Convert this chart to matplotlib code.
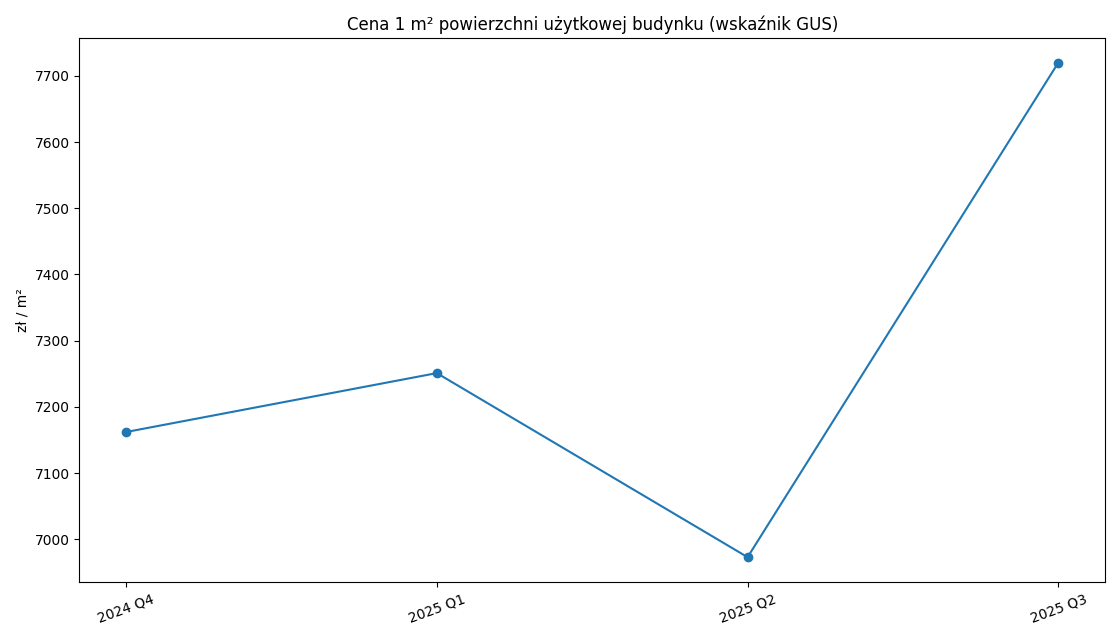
import matplotlib
matplotlib.use("Agg")
import matplotlib.pyplot as plt

quarters = ["2024 Q4", "2025 Q1", "2025 Q2", "2025 Q3"]
prices = [7162, 7251, 6973, 7720]

fig, ax = plt.subplots(figsize=(11.2, 6.4), dpi=100)
ax.plot(quarters, prices, marker="o")
ax.set_title("Cena 1 m² powierzchni użytkowej budynku (wskaźnik GUS)")
ax.set_ylabel("zł / m²")
plt.xticks(rotation=20)
fig.tight_layout()
fig.savefig("out.png", dpi=100)
